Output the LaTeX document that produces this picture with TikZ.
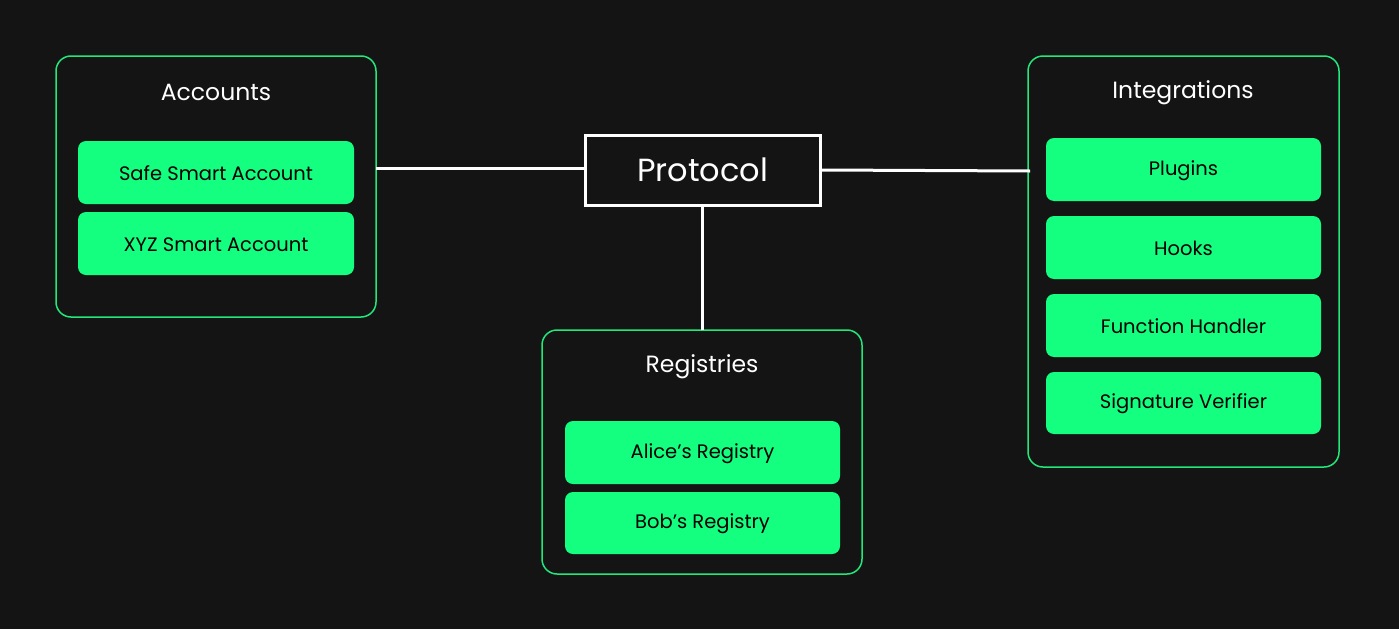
\documentclass[tikz,border=0pt]{standalone}
\usepackage{fontspec}
\setmainfont{Poppins}
\definecolor{bg}{HTML}{141414}
\definecolor{gfill}{HTML}{14FF80}
\definecolor{gline}{HTML}{22E87A}
\begin{document}
\begin{tikzpicture}[x=1pt,y=-1pt,
  group/.style={draw=gline,line width=1.5pt,rounded corners=15pt,fill=bg},
  item/.style={fill=gfill,rounded corners=8pt,text=black,font=\fontsize{19.5}{23}\selectfont},
  gtitle/.style={text=white,font=\fontsize{23.5}{27}\selectfont},
  link/.style={draw=white,line width=3pt}]
\fill[bg] (0,0) rectangle (1399,629);
\useasboundingbox (0,0) rectangle (1399,629);
% groups
\draw[group] (56,56) rectangle (376,317);
\draw[group] (542,330) rectangle (862,574);
\draw[group] (1028,56) rectangle (1339,467);
\coordinate (accR) at (376,168);
\coordinate (regT) at (702.5,330);
\coordinate (intL) at (1030,171);
\node[gtitle] (acct) at (216,92) {Accounts};
\node[gtitle] (regt) at (702,367) {Registries};
\node[gtitle] (intt) at (1183,93) {Integrations};
% items
\path[item] (78,141) rectangle (354,204);
\node[item,fill=none] (safe) at (216,173.5) {Safe Smart Account};
\path[item] (78,212) rectangle (354,275);
\node[item,fill=none] (xyz) at (216,244.5) {XYZ Smart Account};
\path[item] (565,421) rectangle (840,484);
\node[item,fill=none] (alice) at (702.5,453.5) {Alice’s Registry};
\path[item] (565,492) rectangle (840,554);
\node[item,fill=none] (bob) at (702.5,524) {Bob’s Registry};
\path[item] (1046,138) rectangle (1321,201);
\node[item,fill=none] (plug) at (1183.5,170.5) {Plugins};
\path[item] (1046,216) rectangle (1321,279);
\node[item,fill=none] (hooks) at (1183.5,248.5) {Hooks};
\path[item] (1046,294) rectangle (1321,357);
\node[item,fill=none] (fh) at (1183.5,326.5) {Function Handler};
\path[item] (1046,372) rectangle (1321,434);
\node[item,fill=none] (sv) at (1183.5,404) {Signature Verifier};
% protocol
\node[draw=white,line width=3pt,fill=bg,text=white,minimum width=235pt,minimum height=70pt,inner sep=0pt,font=\fontsize{32}{37}\selectfont] (proto) at (702.5,170) {Protocol};
\draw[link] (accR) -- (proto.west |- accR);
\draw[link] (proto.east) -- (intL);
\draw[link] (proto.south) -- (regT);
\end{tikzpicture}
\end{document}
